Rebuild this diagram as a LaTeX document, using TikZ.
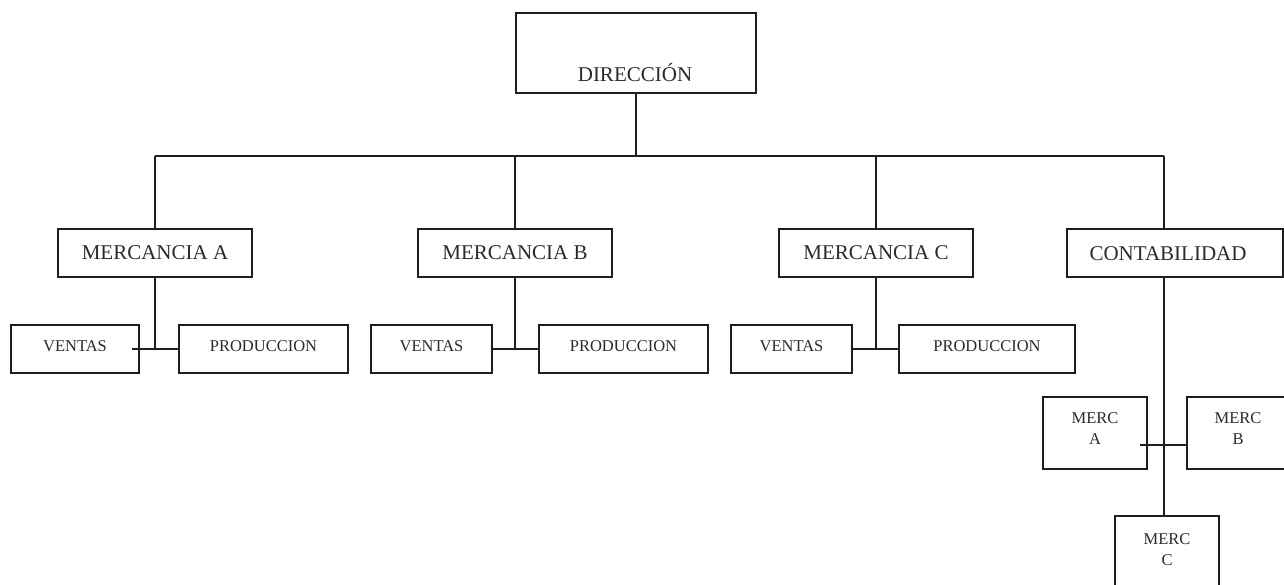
\documentclass[tikz,border=0pt]{standalone}
\usepackage{fontspec}
\setmainfont{Liberation Serif}
\definecolor{ink}{HTML}{1E1E1E}
\definecolor{txt}{HTML}{2A2A2A}
\begin{document}
\begin{tikzpicture}[x=1pt,y=-1pt,line width=1.6pt,
  box/.style={draw=ink,rectangle,inner sep=0pt,text=txt},
  label text/.style={inner sep=0pt,text=txt},
  big/.style={font=\fontsize{21}{25}\selectfont},
  small/.style={font=\fontsize{16.5}{20.5}\selectfont},
  unit/.style={box,big,minimum width=194pt,minimum height=48pt},
  sub/.style={box,small,minimum height=48pt,text depth=6pt},
  merc/.style={box,minimum width=104pt,minimum height=72pt},
  link/.style={draw=ink}]
\useasboundingbox (0,0) rectangle (1284,584);
\clip (0,0) rectangle (1284,584);

% top of the chart
\node[box,minimum width=240pt,minimum height=80pt] (dir) at (636,53) {};
\node[label text,big,anchor=base] (dirt) at (635,81) {DIRECCIÓN};

% bus junctions
\coordinate (jA) at (155,156);
\coordinate (jB) at (515,156);
\coordinate (jC) at (876,156);
\coordinate (jK) at (1164,156);

% second level
\node[unit] (mA) at (155,253) {MERCANCIA A};
\node[unit] (mB) at (515,253) {MERCANCIA B};
\node[unit] (mC) at (876,253) {MERCANCIA C};
\node[box,minimum width=216pt,minimum height=48pt] (ct) at (1175,253) {};
\node[label text,big] (ctt) at (1168,253.5) {CONTABILIDAD};

% third level
\node[sub,minimum width=128pt] (vA) at (75,349) {VENTAS};
\node[sub,minimum width=169pt] (pA) at (263.5,349) {PRODUCCION};
\node[sub,minimum width=121pt] (vB) at (431.5,349) {VENTAS};
\node[sub,minimum width=169pt] (pB) at (623.5,349) {PRODUCCION};
\node[sub,minimum width=121pt] (vC) at (791.5,349) {VENTAS};
\node[sub,minimum width=176pt] (pC) at (987,349) {PRODUCCION};

% accounting sub-units
\node[merc] (ma) at (1095,433) {};
\node[label text,small,align=center,anchor=north] (mat) at (1095,412) {MERC\\A};
\node[merc] (mb) at (1239,433) {};
\node[label text,small,align=center,anchor=north] (mbt) at (1238,412) {MERC\\B};
\node[merc] (mc) at (1167,552) {};
\node[label text,small,align=center,anchor=north] (mct) at (1167,533) {MERC\\C};
\coordinate (kx) at (1164,445);

% connectors
\draw[link] (dir.south) -- (dir.south |- jA);
\draw[link] (jA) -- (jK);
\draw[link] (jA) -- (mA.north);
\draw[link] (jB) -- (mB.north);
\draw[link] (jC) -- (mC.north);
\draw[link] (jK) -- (jK |- ct.north);

\draw[link] (mA.south) -- (mA.south |- vA.east);
\draw[link] ([xshift=-8pt]vA.east) -- (pA.west);
\draw[link] (mB.south) -- (mB.south |- vB.east);
\draw[link] (vB.east) -- (pB.west);
\draw[link] (mC.south) -- (mC.south |- vC.east);
\draw[link] (vC.east) -- (pC.west);

\draw[link] (jK |- ct.south) -- (jK |- mc.north);
\draw[link] ([xshift=-8pt]kx -| ma.east) -- (kx -| mb.west);
\end{tikzpicture}
\end{document}
